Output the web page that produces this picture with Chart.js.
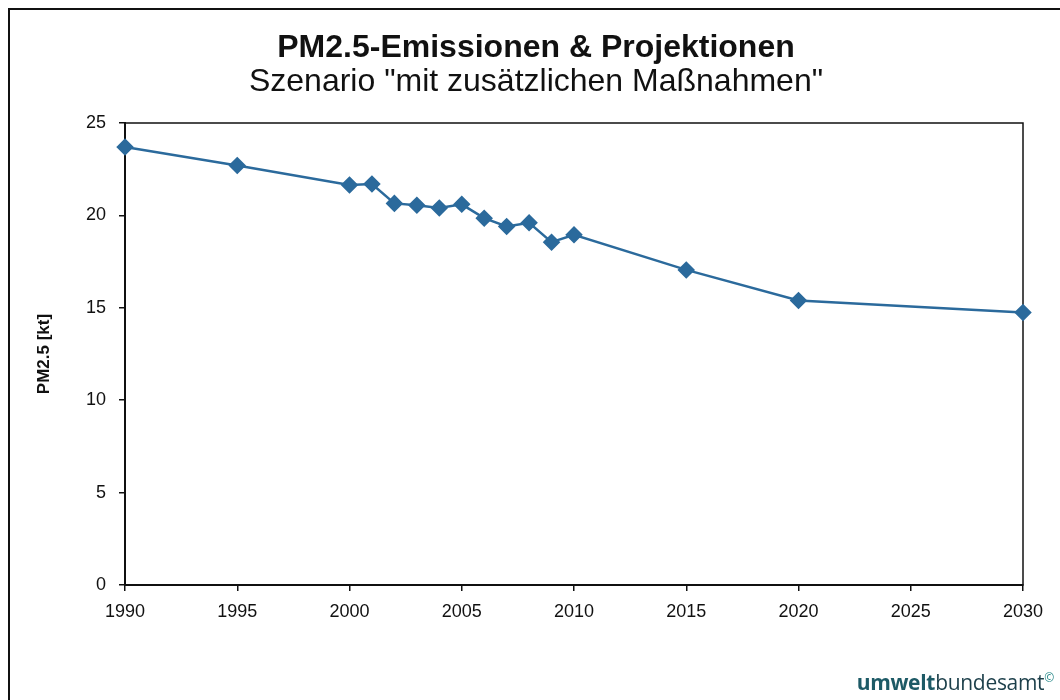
<!DOCTYPE html>
<html>
<head>
<meta charset="utf-8">
<script src="https://cdn.jsdelivr.net/npm/chart.js@4"></script>
<style>
  body { margin: 0; background: #fff; }
  #wrap { position: relative; width: 1060px; height: 700px; overflow: hidden; }
  #frame { position: absolute; left: 8px; top: 8px; width: 1060px; height: 700px;
           border-left: 2px solid #111; border-top: 2px solid #111; }
  .ttl { position: absolute; left: 0; width: 1072px; text-align: center; color: #111;
         font-family: "Liberation Sans", Arial, sans-serif; font-size: 32px; line-height: 32px; }
  #title { top: 30px; font-weight: bold; }
  #subtitle { top: 64px; }
  #logo { position: absolute; right: 6px; bottom: 4px; font-family: "Open Sans", sans-serif;
          font-size: 21px; color: #1c3f4a; letter-spacing: -0.3px; }
  #logo b { color: #1d5a66; }
  #logo sup { font-size: 12px; color: #2a8a8a; }
</style>
</head>
<body>
<div id="wrap">
  <div id="frame"></div>
  <canvas id="chart" width="1060" height="700"></canvas>
  <div class="ttl" id="title">PM2.5-Emissionen &amp; Projektionen</div>
  <div class="ttl" id="subtitle">Szenario "mit zusätzlichen Maßnahmen"</div>
  <div id="logo"><b>umwelt</b>bundesamt<sup>©</sup></div>
</div>
<script>
// PM2.5 emissions, scenario with additional measures
const years = [1990, 1995, 2000, 2001, 2002, 2003, 2004, 2005, 2006, 2007, 2008, 2009, 2010, 2015, 2020, 2030];
const pm25 = [23.7, 22.7, 21.65, 21.7, 20.65, 20.55, 20.4, 20.6, 19.85, 19.4, 19.6, 18.55, 18.95, 17.05, 15.4, 14.75];
const xTicks = [1990, 1995, 2000, 2005, 2010, 2015, 2020, 2025, 2030];
const yTicks = [0, 5, 10, 15, 20, 25];

const lineColor = '#2b6a9c';
const fontFamily = '"Liberation Sans", Arial, sans-serif';

const frameBox = {
    id: 'frameBox',
    beforeDatasetsDraw(chart) {
        const { ctx, chartArea } = chart;
        ctx.save();
        ctx.strokeStyle = '#111';
        ctx.lineWidth = 1.5;
        ctx.strokeRect(chartArea.left, chartArea.top, chartArea.right - chartArea.left, chartArea.bottom - chartArea.top);
        ctx.restore();
    }
};

new Chart(document.getElementById('chart'), {
    type: 'line',
    data: {
        datasets: [{
            data: years.map((y, i) => ({ x: y, y: pm25[i] })),
            borderColor: lineColor,
            backgroundColor: lineColor,
            borderWidth: 2.5,
            pointStyle: 'rectRot',
            pointRadius: 7,
            pointHoverRadius: 7,
            tension: 0,
            clip: false
        }]
    },
    options: {
        responsive: false,
        animation: false,
        layout: { padding: { left: 0, right: 37, top: 123, bottom: 0 } },
        plugins: {
            legend: { display: false },
            tooltip: { enabled: false }
        },
        scales: {
            x: {
                type: 'linear',
                min: 1990,
                max: 2030,
                afterFit(scale) { scale.height = 115; },
                afterBuildTicks(scale) { scale.ticks = xTicks.map(v => ({ value: v })); },
                ticks: {
                    color: '#111',
                    padding: 10,
                    maxRotation: 0,
                    font: { family: fontFamily, size: 18 },
                    callback: v => String(v)
                },
                grid: { drawOnChartArea: false, tickLength: 6, color: '#111', lineWidth: 1.5 },
                border: { color: '#111', width: 2 }
            },
            y: {
                min: 0,
                max: 25,
                afterFit(scale) { scale.width = 125; },
                afterBuildTicks(scale) { scale.ticks = yTicks.map(v => ({ value: v })); },
                ticks: {
                    color: '#111',
                    padding: 13,
                    font: { family: fontFamily, size: 18 }
                },
                grid: { drawOnChartArea: false, tickLength: 6, color: '#111', lineWidth: 1.5 },
                border: { color: '#111', width: 2 },
                title: {
                    display: true,
                    text: 'PM2.5 [kt]',
                    color: '#111',
                    font: { family: fontFamily, size: 17, weight: 'bold', lineHeight: 1.0 },
                    padding: { top: 36, bottom: 0 }
                }
            }
        }
    },
    plugins: [frameBox]
});
</script>
</body>
</html>
